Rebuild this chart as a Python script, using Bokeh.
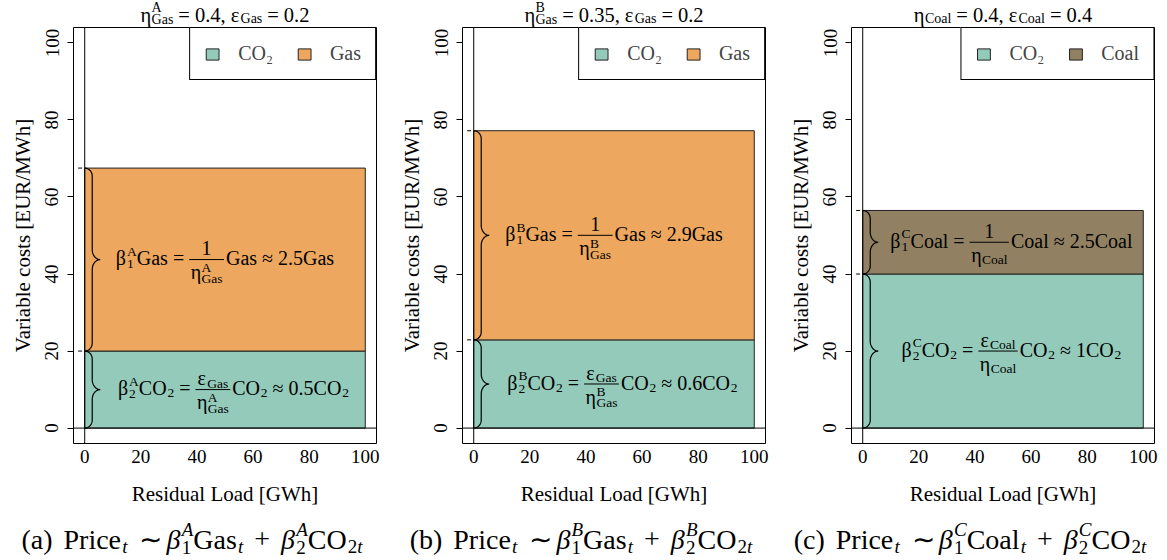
import math
from bokeh.plotting import figure
from bokeh.models import Range1d, Legend, LegendItem, Span, FixedTicker
from bokeh.layouts import row, column
from bokeh.embed import file_html
from bokeh.resources import INLINE
from bokeh.core.properties import value

FONT = "Liberation Serif"

# ---------------- data ----------------
panel_tags = ["a", "b", "c"]
plant_labels = ["A", "B", "C"]
eta_sup = ["A", "B", ""]
fuel_names = ["Gas", "Gas", "Coal"]
co2_costs = [20.0, 22.9, 40.0]      # beta2 * CO2 component
fuel_costs = [47.5, 54.3, 16.5]     # beta1 * fuel component
eta_values = ["0.4", "0.35", "0.4"]
eps_values = ["0.2", "0.2", "0.4"]
beta1_values = ["2.5", "2.9", "2.5"]
beta2_values = ["0.5", "0.6", "1"]
load_range = [0, 100]
x_ticks = [0, 20, 40, 60, 80, 100]
y_ticks = [0, 20, 40, 60, 80, 100]
axis_lim = [-4, 104]
colors = {"CO2": "#93CAB9", "Gas": "#EDA75F", "Coal": "#918062"}
fuel_centers = [50, 50, 53]
co2_centers = [53, 53, 53]

# ---------------- geometry ----------------
FW, FH = 303, 416
BL = 73
BR = [13, 13, 13]
BB = 67
TOP_H = 27
CAP_H = 50
widths = [BL + FW + r for r in BR]
TOTAL = sum(widths)
KX = (axis_lim[1] - axis_lim[0]) / FW
KY = (axis_lim[1] - axis_lim[0]) / FH
MID = 0.337   # distance from baseline to text-box centre, in em

# ---------------- tiny math-text layout ----------------
EM = {' ': .25, '(': .333, ')': .333, ',': .25, '.': .25, '=': .564, '+': .564,
      '≈': .549, '∼': .541, 'A': .722, 'B': .667, 'C': .667, 'G': .722, 'O': .722,
      'P': .556, 'a': .444, 'c': .444, 'e': .444, 'i': .278, 'l': .278, 'o': .5,
      'r': .333, 's': .389, 't': .278, 'β': .52, 'η': .5, 'ε': .44}
EM_IT = {'A': .611, 'B': .611, 'C': .667, 't': .278, 'β': .5}


def tw(s, size, st="normal"):
    tot = 0.0
    for ch in s:
        if st == "italic" and ch in EM_IT:
            tot += EM_IT[ch]
        else:
            tot += EM.get(ch, .5)
    return tot * size


def norm(s, st="normal"):
    if not s:
        return []
    if isinstance(s, str):
        return [(s, st)]
    return list(s)


def T(s, st="normal"):
    return ("t", s, st)


def SP(px):
    return ("sp", px)


def SS(sup, sub, st="normal"):
    return ("ss", norm(sup, st), norm(sub, st))


def FR(num, den):
    return ("fr", num, den)


def layout(tokens, F, S, cramped=False, dmul=1.0):
    items, lines, x = [], [], 0.0
    up = (0.35 if cramped else 0.45) * F
    for tok in tokens:
        k = tok[0]
        if k == "t":
            items.append((x, 0.0, tok[1], F, tok[2]))
            x += tw(tok[1], F, tok[2])
        elif k == "sp":
            x += tok[1]
        elif k == "ss":
            sup, sub = tok[1], tok[2]
            down = (0.2 if sup else 0.14) * F * dmul
            x += 0.04 * F
            wsup = wsub = 0.0
            for s, st in sup:
                items.append((x + wsup, -up, s, S, st))
                wsup += tw(s, S, st)
            for s, st in sub:
                items.append((x + wsub, down, s, S, st))
                wsub += tw(s, S, st)
            x += max(wsup, wsub)
        elif k == "fr":
            ni, nl, nw = layout(tok[1], F, S, True)
            di, dl, dw = layout(tok[2], F, S, True)
            w = max(nw, dw) + 0.15 * F
            nx = x + (w - nw) / 2
            dx = x + (w - dw) / 2
            for (a, b, s, sz, st) in ni:
                items.append((nx + a, b - 0.5 * F, s, sz, st))
            for (a, b, s, sz, st) in di:
                items.append((dx + a, b + 0.7 * F, s, sz, st))
            lines.append((x, x + w, -0.265 * F))
            x += w
    return items, lines, x


def render(p, tokens, F, S, base, kx, ky, left=None, center=None, font=FONT, dmul=1.0):
    items, lines, w = layout(tokens, F, S, dmul=dmul)
    if center is not None:
        left = center - w * kx / 2
    groups = {}
    for (a, b, s, sz, st) in items:
        g = groups.setdefault((sz, st), ([], [], []))
        g[0].append(left + a * kx)
        g[1].append(base - (b - MID * sz) * ky)
        g[2].append(s)
    for (sz, st), (xs, ys, ts) in groups.items():
        p.text(x=xs, y=ys, text=ts, text_font=value(font), text_font_size=f"{sz}px",
               text_font_style=st, text_align="left", text_baseline="middle",
               text_color="black")
    for (a, b, dy) in lines:
        p.segment(x0=[left + a * kx], y0=[base - dy * ky], x1=[left + b * kx],
                  y1=[base - dy * ky], line_color="black", line_width=1)


def brace(y_low, y_high):
    spine, tip, r_end, r_mid = 7.5, 15.5, 8.0, 10.0
    H = (y_high - y_low) / KY
    mid = H / 2
    pts = []
    n = 12
    for j in range(n + 1):
        th = (math.pi / 2) * j / n
        pts.append((spine * math.sin(th), r_end * (1 - math.cos(th))))
    for j in range(n + 1):
        th = (math.pi / 2) * j / n
        pts.append((spine + (tip - spine) * (1 - math.cos(th)), mid - r_mid * (1 - math.sin(th))))
    full = pts + [(px, H - d) for (px, d) in reversed(pts)]
    xs = [px * KX for (px, d) in full]
    ys = [y_high - d * KY for (px, d) in full]
    return xs, ys


def eta_tokens(i):
    fuel = fuel_names[i]
    return [T("η"), SS(eta_sup[i], fuel)]


def make_panel(i):
    fuel = fuel_names[i]
    plant = plant_labels[i]
    p = figure(frame_width=FW, frame_height=FH,
               x_range=Range1d(*axis_lim), y_range=Range1d(*axis_lim),
               min_border_left=BL, min_border_right=BR[i], min_border_top=0,
               min_border_bottom=BB, toolbar_location=None, output_backend="svg")
    p.grid.visible = False
    p.outline_line_color = "black"
    p.outline_line_width = 1
    p.outline_line_alpha = 1
    p.background_fill_color = "white"
    p.border_fill_color = "white"

    co2_top = co2_costs[i]
    tot = co2_costs[i] + fuel_costs[i]
    r_co2 = p.quad(left=[load_range[0]], right=[load_range[1]], bottom=[0], top=[co2_top],
                   fill_color=colors["CO2"], line_color="#222222", line_width=1)
    r_fuel = p.quad(left=[load_range[0]], right=[load_range[1]], bottom=[co2_top], top=[tot],
                    fill_color=colors[fuel], line_color="#222222", line_width=1)

    p.add_layout(Span(location=0, dimension="width", line_color="black", line_width=1))
    p.add_layout(Span(location=0, dimension="height", line_color="black", line_width=1))

    for (lo, hi) in [(0, co2_top), (co2_top, tot)]:
        xs, ys = brace(lo, hi)
        p.line(xs, ys, line_color="black", line_width=1.2)
    p.segment(x0=[-6.6 * KX] * 2, x1=[-2.6 * KX] * 2, y0=[co2_top, tot], y1=[co2_top, tot],
              line_color="black", line_width=1)

    F, S = 20, 13.5
    up_tokens = [T("β"), SS(plant, "1"), T(fuel), SP(5), T("="), SP(5),
                 FR([T("1")], eta_tokens(i)), SP(2), T(fuel), SP(5), T("≈"), SP(5),
                 T(beta1_values[i] + fuel)]
    lo_tokens = [T("β"), SS(plant, "2"), T("CO"), SS(None, "2"), SP(5), T("="), SP(5),
                 FR([T("ε"), SS(None, fuel)], eta_tokens(i)), SP(2), T("CO"), SS(None, "2"),
                 SP(5), T("≈"), SP(5), T(beta2_values[i] + "CO"), SS(None, "2")]
    mid_f = (co2_top + tot) / 2
    mid_c = co2_top / 2
    render(p, up_tokens, F, S, mid_f - 0.265 * F * KY, KX, KY, center=fuel_centers[i])
    render(p, lo_tokens, F, S, mid_c - 0.265 * F * KY, KX, KY, center=co2_centers[i])

    legend = Legend(items=[LegendItem(label="CO₂", renderers=[r_co2]),
                           LegendItem(label=fuel, renderers=[r_fuel])],
                    location="top_right", orientation="horizontal",
                    border_line_color="black", border_line_width=1, border_line_alpha=1,
                    background_fill_color="white", background_fill_alpha=1,
                    label_text_font=FONT, label_text_font_size="20px",
                    glyph_width=16, glyph_height=14, label_standoff=18, spacing=23,
                    padding=14, margin=0)
    p.add_layout(legend)

    for ax in p.axis:
        ax.axis_line_color = None
        ax.major_label_text_font = FONT
        ax.major_label_text_font_size = "19px"
        ax.major_label_text_color = "black"
        ax.axis_label_text_font = FONT
        ax.axis_label_text_font_size = "21px"
        ax.axis_label_text_font_style = "normal"
        ax.axis_label_text_color = "black"
        ax.minor_tick_line_color = None
        ax.major_tick_line_color = "black"
    p.xaxis.ticker = FixedTicker(ticks=x_ticks)
    p.yaxis.ticker = FixedTicker(ticks=y_ticks)
    p.xaxis.major_tick_out = 0
    p.xaxis.major_tick_in = 0
    p.xaxis.major_label_standoff = 6
    p.xaxis.axis_label_standoff = 16
    p.xaxis.axis_label = "Residual Load [GWh]"
    p.yaxis.major_tick_out = 6
    p.yaxis.major_tick_in = 0
    p.yaxis.major_label_orientation = "vertical"
    p.yaxis.major_label_standoff = 9
    p.yaxis.axis_label_standoff = 8
    p.yaxis.axis_label = "Variable costs [EUR/MWh]"
    return p


def strip(h):
    s = figure(width=TOTAL, height=h, x_range=Range1d(0, TOTAL), y_range=Range1d(h, 0),
               min_border=0, x_axis_type=None, y_axis_type=None, toolbar_location=None,
               output_backend="svg")
    s.outline_line_color = None
    s.grid.visible = False
    s.background_fill_color = "white"
    s.border_fill_color = "white"
    return s


panels = [make_panel(i) for i in range(3)]

top = strip(TOP_H)
cap = strip(CAP_H)
x0 = 0
sub_w = TOTAL / 3
for i in range(3):
    fuel = fuel_names[i]
    plant = plant_labels[i]
    title_tokens = [T("η"), SS(eta_sup[i], fuel), SP(5), T("="), SP(5), T(eta_values[i] + ","),
                    SP(5), T("ε"), SS(None, fuel), SP(5), T("="), SP(5), T(eps_values[i])]
    render(top, title_tokens, 20.5, 14, 21, 1, -1, center=x0 + BL + FW / 2, dmul=0.7)
    cap_tokens = [T(f"({panel_tags[i]})"), SP(11), T("Price"), SS(None, [("t", "italic")]), SP(12),
                  T("∼"), SP(12), T("β", "italic"),
                  SS([(plant, "italic")], [("1", "normal")]), T(fuel),
                  SS(None, [("t", "italic")]), SP(11), T("+"), SP(11), T("β", "italic"),
                  SS([(plant, "italic")], [("2", "normal")]), T("CO"),
                  SS(None, [("2", "normal"), ("t", "italic")])]
    render(cap, cap_tokens, 28, 19, 38, 1, -1, center=sub_w * (i + 0.5) - 3)
    x0 += widths[i]

page = column(top, row(*panels), cap)
open("out.html", "w").write(file_html(page, INLINE))
